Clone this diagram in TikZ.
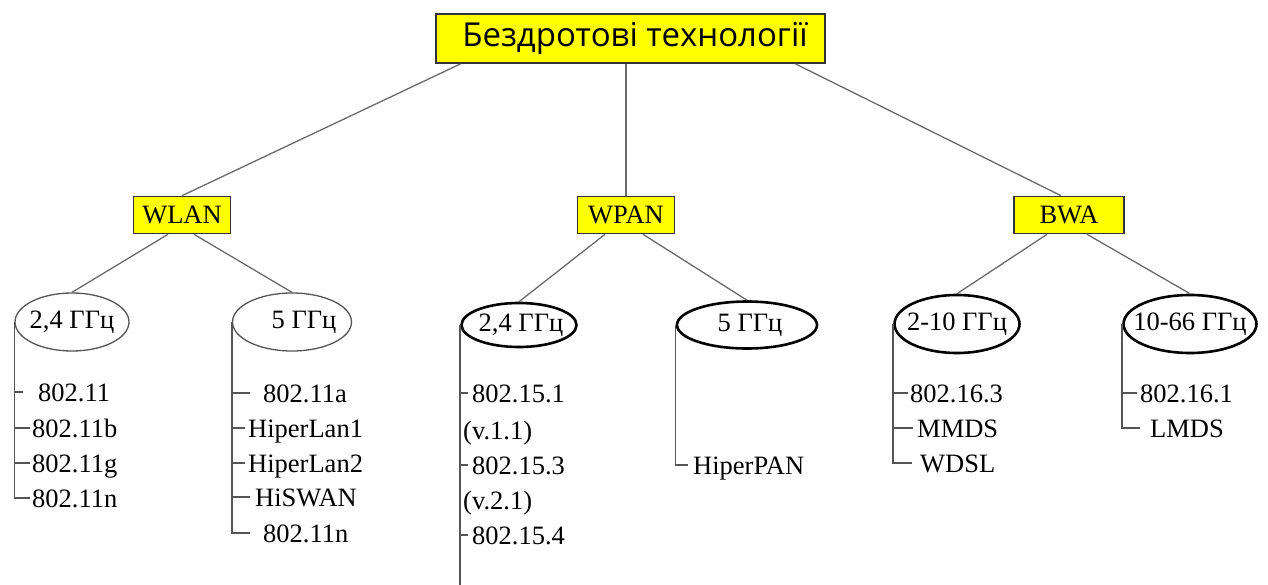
\documentclass[tikz,border=0pt]{standalone}
\usepackage{fontspec}
\setmainfont{Liberation Serif}
\newfontfamily\headfont{Open Sans}
\usetikzlibrary{shapes.geometric}

\definecolor{boxyellow}{HTML}{FFFF00}
\definecolor{boxedge}{HTML}{333333}
\definecolor{linkgray}{HTML}{6A6A6A}
\definecolor{spinegray}{HTML}{555555}

% zero-width label so that the ellipse size is set only by its minimum dimensions
\newcommand{\bandlabel}[1]{\makebox[0pt]{#1}}

\tikzset{
  headbox/.style={draw=boxedge, line width=1.8pt, fill=boxyellow,
    minimum width=389pt, minimum height=49pt, inner sep=0pt,
    font=\headfont\fontsize{33}{36}\selectfont},
  groupbox/.style={draw=boxedge, line width=1.6pt, fill=boxyellow,
    minimum height=37pt, inner sep=0pt, font=\fontsize{26.5}{30}\selectfont},
  thinoval/.style={ellipse, draw=spinegray, line width=1.3pt, inner sep=0pt,
    font=\fontsize{26.5}{30}\selectfont},
  boldoval/.style={ellipse, draw=black, line width=2.6pt, inner sep=0pt,
    font=\fontsize{26.5}{30}\selectfont},
  item/.style={anchor=west, inner sep=0pt, text height=18pt, text depth=0pt,
    font=\fontsize{26.5}{30}\selectfont},
  link/.style={draw=linkgray, line width=1.3pt},
  spine/.style={draw=spinegray, line width=1.5pt},
  tick/.style={draw=spinegray, line width=1.3pt}
}

\begin{document}
\begin{tikzpicture}[x=1pt,y=-1pt]
\useasboundingbox (0,0) rectangle (1268,585);

% root and the three technology groups
\node[headbox] (top) at (630.5,38.5) {\hspace{9pt}Бездротові технології};
\node[groupbox, minimum width=97pt]  (wlan) at (182,215) {WLAN};
\node[groupbox, minimum width=97pt]  (wpan) at (626,215) {WPAN};
\node[groupbox, minimum width=110pt] (bwa)  at (1069,215) {BWA};

\draw[link] ([xshift=-170pt]top.south) -- (wlan.north);
\draw[link] (wpan.north |- top.south) -- (wpan.north);
\draw[link] ([xshift=165pt]top.south) -- ([xshift=-8pt]bwa.north);

% frequency bands
\node[thinoval, minimum width=114pt, minimum height=58pt] (e1) at (72,322)  {\bandlabel{2,4 ГГц}};
\node[thinoval, minimum width=119pt, minimum height=58pt] (e2) at (292,322) {\bandlabel{\hspace{24pt}5 ГГц}};
\node[boldoval, minimum width=115pt, minimum height=44pt] (e3) at (519,325) {\bandlabel{\hspace{4pt}2,4 ГГц}};
\node[boldoval, minimum width=140pt, minimum height=47pt] (e4) at (747,325) {\bandlabel{\hspace{6pt}5 ГГц}};
\node[boldoval, minimum width=125pt, minimum height=58pt] (e5) at (957,324) {\bandlabel{2-10 ГГц}};
\node[boldoval, minimum width=133pt, minimum height=58pt] (e6) at (1190,324) {\bandlabel{10-66 ГГц}};

\draw[link] ([xshift=-14pt]wlan.south) -- (e1.north);
\draw[link] ([xshift=12pt]wlan.south)  -- (e2.north);
\draw[link] ([xshift=-21pt]wpan.south) -- (e3.north);
\draw[link] ([xshift=17pt]wpan.south)  -- (e4.north);
\draw[link] ([xshift=-22pt]bwa.south)  -- (e5.north);
\draw[link] ([xshift=18pt]bwa.south)   -- (e6.north);

% WLAN 2,4 GHz
\node[item] (a1) at (38,392) {802.11};
\node[item] (a2) at (32,428) {802.11b};
\node[item] (a3) at (32,463) {802.11g};
\node[item] (a4) at (32,498) {802.11n};
\draw[spine] (e1.west) -- (e1.west |- a4.west) -- ([xshift=-2pt]a4.west);
\draw[tick, shorten >=15pt] (e1.west |- a1.west) -- (a1.west);
\draw[tick, shorten >=2pt]  (e1.west |- a2.west) -- (a2.west);
\draw[tick, shorten >=2pt]  (e1.west |- a3.west) -- (a3.west);

% WLAN 5 GHz
\node[item] (b1) at (263,393) {802.11a};
\node[item] (b2) at (248,428) {HiperLan1};
\node[item] (b3) at (248,463) {HiperLan2};
\node[item] (b4) at (255,497) {HiSWAN};
\node[item] (b5) at (263,533) {802.11n};
\draw[spine] (e2.west) -- (e2.west |- b5.west) -- ([xshift=-13pt]b5.west);
\draw[tick, shorten >=13pt] (e2.west |- b1.west) -- (b1.west);
\draw[tick, shorten >=3pt]  (e2.west |- b2.west) -- (b2.west);
\draw[tick, shorten >=3pt]  (e2.west |- b3.west) -- (b3.west);
\draw[tick, shorten >=5pt]  (e2.west |- b4.west) -- (b4.west);

% WPAN 2,4 GHz
\node[item] (c1) at (472,393) {802.15.1};
\node[item] (c2) at (463,430) {(v.1.1)};
\node[item] (c3) at (472,465) {802.15.3};
\node[item] (c4) at (463,500) {(v.2.1)};
\node[item] (c5) at (472,535) {802.15.4};
\coordinate (c6) at (e3.west |- 0,585);
\draw[spine] (e3.west) -- (c6);
\draw[tick, shorten >=4pt] (e3.west |- c1.west) -- (c1.west);
\draw[tick, shorten >=4pt] (e3.west |- c3.west) -- (c3.west);
\draw[tick, shorten >=4pt] (e3.west |- c5.west) -- (c5.west);

% WPAN 5 GHz
\node[item] (d1) at (693,465) {HiperPAN};
\draw[spine] (e4.west) -- (e4.west |- d1.west) -- ([xshift=-5pt]d1.west);

% BWA 2-10 GHz
\node[item] (f1) at (910,393) {802.16.3};
\node[item] (f2) at (917,428) {MMDS};
\node[item] (f3) at (920,463) {WDSL};
\draw[spine] (e5.west) -- (e5.west |- f3.west) -- ([xshift=-8pt]f3.west);
\draw[tick, shorten >=2pt] (e5.west |- f1.west) -- (f1.west);
\draw[tick, shorten >=4pt] (e5.west |- f2.west) -- (f2.west);

% BWA 10-66 GHz
\node[item] (g1) at (1140,393) {802.16.1};
\node[item] (g2) at (1150,428) {LMDS};
\draw[spine] (e6.west) -- (e6.west |- g2.west) -- ([xshift=-10pt]g2.west);
\draw[tick, shorten >=3pt] (e6.west |- g1.west) -- (g1.west);
\end{tikzpicture}
\end{document}
